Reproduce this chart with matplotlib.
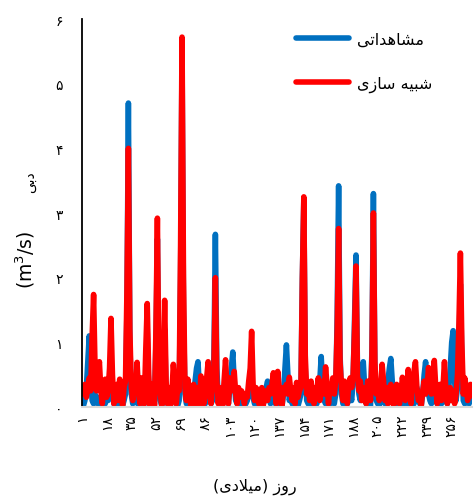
import matplotlib
matplotlib.use("Agg")
import matplotlib.pyplot as plt

# daily discharge (m3/s), observed vs simulated, days 1..270
observed = [
    0.05, 0.02, 0.10, 0.30, 0.70, 1.10, 0.40, 0.10, 0.05, 0.20,
    0.10, 0.05, 0.15, 0.05, 0.02, 0.10, 0.05, 0.20, 0.10, 0.30,
    0.60, 0.20, 0.05, 0.02, 0.10, 0.05, 0.15, 0.05, 0.02, 0.10,
    0.20, 1.50, 4.70, 1.00, 0.20, 0.05, 0.10, 0.30, 0.10, 0.02,
    0.05, 0.10, 0.02, 0.05, 0.40, 1.20, 0.30, 0.05, 0.02, 0.10,
    0.05, 1.00, 2.60, 0.40, 0.10, 0.02, 0.10, 1.20, 0.20, 0.05,
    0.02, 0.05, 0.10, 0.30, 0.10, 0.05, 0.02, 0.10, 2.00, 5.50,
    1.50, 0.20, 0.05, 0.10, 0.05, 0.02, 0.10, 0.20, 0.40, 0.60,
    0.70, 0.30, 0.05, 0.02, 0.10, 0.05, 0.20, 0.30, 0.10, 0.05,
    0.10, 0.80, 2.67, 0.60, 0.10, 0.05, 0.02, 0.05, 0.20, 0.30,
    0.10, 0.05, 0.30, 0.60, 0.85, 0.40, 0.10, 0.05, 0.02, 0.05,
    0.10, 0.05, 0.02, 0.05, 0.10, 0.20, 0.40, 0.60, 0.15, 0.05,
    0.02, 0.05, 0.02, 0.10, 0.20, 0.05, 0.10, 0.30, 0.40, 0.20,
    0.05, 0.10, 0.30, 0.10, 0.02, 0.05, 0.10, 0.05, 0.02, 0.20,
    0.60, 0.96, 0.50, 0.10, 0.20, 0.05, 0.02, 0.10, 0.05, 0.02,
    0.10, 0.20, 2.00, 3.20, 0.60, 0.10, 0.05, 0.02, 0.10, 0.05,
    0.02, 0.10, 0.05, 0.20, 0.40, 0.78, 0.30, 0.10, 0.05, 0.10,
    0.02, 0.05, 0.10, 0.20, 0.05, 0.20, 1.40, 3.42, 0.80, 0.20,
    0.05, 0.10, 0.02, 0.05, 0.10, 0.20, 0.10, 0.40, 1.40, 2.35,
    0.60, 0.20, 0.10, 0.40, 0.70, 0.30, 0.05, 0.10, 0.05, 0.02,
    0.90, 3.30, 0.60, 0.10, 0.05, 0.02, 0.10, 0.30, 0.10, 0.05,
    0.10, 0.40, 0.60, 0.75, 0.40, 0.10, 0.02, 0.05, 0.02, 0.05,
    0.10, 0.02, 0.05, 0.20, 0.10, 0.05, 0.02, 0.20, 0.10, 0.05,
    0.20, 0.30, 0.10, 0.05, 0.02, 0.20, 0.50, 0.70, 0.30, 0.20,
    0.10, 0.05, 0.20, 0.30, 0.10, 0.05, 0.02, 0.10, 0.05, 0.10,
    0.30, 0.10, 0.05, 0.30, 0.60, 1.00, 1.18, 0.40, 0.10, 0.30,
    0.90, 1.90, 0.70, 0.10, 0.05, 0.20, 0.10, 0.05, 0.20, 0.10,
]
simulated = [
    0.28, 0.20, 0.35, 0.15, 0.30, 0.45, 0.25, 1.10, 1.74, 0.60,
    0.25, 0.45, 0.70, 0.25, 0.05, 0.30, 0.43, 0.15, 0.25, 0.60,
    1.37, 0.50, 0.05, 0.25, 0.35, 0.10, 0.43, 0.20, 0.02, 0.30,
    0.40, 1.80, 4.00, 1.20, 0.30, 0.10, 0.40, 0.25, 0.69, 0.20,
    0.05, 0.45, 0.25, 0.05, 0.90, 1.60, 0.50, 0.02, 0.35, 0.30,
    0.02, 1.20, 2.92, 0.60, 0.20, 0.02, 0.50, 1.65, 0.40, 0.05,
    0.30, 0.02, 0.20, 0.66, 0.40, 0.05, 0.30, 0.25, 2.50, 5.72,
    2.00, 0.30, 0.10, 0.43, 0.25, 0.02, 0.20, 0.35, 0.05, 0.30,
    0.15, 0.02, 0.48, 0.30, 0.05, 0.20, 0.45, 0.70, 0.20, 0.05,
    0.35, 0.60, 2.00, 0.40, 0.05, 0.30, 0.20, 0.02, 0.40, 0.73,
    0.30, 0.05, 0.45, 0.25, 0.30, 0.55, 0.20, 0.05, 0.30, 0.15,
    0.25, 0.20, 0.05, 0.20, 0.15, 0.40, 0.60, 1.17, 0.35, 0.10,
    0.30, 0.25, 0.05, 0.20, 0.30, 0.02, 0.20, 0.25, 0.10, 0.30,
    0.20, 0.35, 0.53, 0.25, 0.05, 0.55, 0.30, 0.10, 0.02, 0.30,
    0.25, 0.35, 0.20, 0.46, 0.25, 0.10, 0.30, 0.05, 0.38, 0.15,
    0.25, 0.30, 2.00, 3.25, 0.80, 0.20, 0.35, 0.10, 0.40, 0.25,
    0.05, 0.30, 0.20, 0.45, 0.10, 0.30, 0.40, 0.20, 0.62, 0.35,
    0.05, 0.30, 0.25, 0.45, 0.20, 0.40, 1.20, 2.76, 0.70, 0.30,
    0.10, 0.40, 0.25, 0.05, 0.35, 0.45, 0.30, 0.50, 1.20, 2.18,
    0.50, 0.25, 0.40, 0.10, 0.30, 0.20, 0.05, 0.40, 0.30, 0.10,
    0.80, 3.00, 0.70, 0.20, 0.35, 0.10, 0.30, 0.66, 0.40, 0.10,
    0.30, 0.05, 0.25, 0.35, 0.10, 0.02, 0.20, 0.35, 0.15, 0.05,
    0.20, 0.46, 0.30, 0.10, 0.25, 0.58, 0.20, 0.05, 0.40, 0.55,
    0.70, 0.30, 0.10, 0.20, 0.02, 0.25, 0.40, 0.20, 0.30, 0.61,
    0.35, 0.20, 0.40, 0.72, 0.30, 0.05, 0.25, 0.35, 0.10, 0.30,
    0.70, 0.25, 0.05, 0.20, 0.30, 0.10, 0.25, 0.05, 0.20, 0.50,
    1.30, 2.38, 1.00, 0.20, 0.45, 0.30, 0.10, 0.25, 0.35, 0.17,
]
days = list(range(1, len(observed) + 1))
xtick_days = list(range(1, 257, 17))
yticks = [0, 1, 2, 3, 4, 5, 6]

PERSIAN_DIGITS = str.maketrans("0123456789", "۰۱۲۳۴۵۶۷۸۹")

# matplotlib does no Arabic shaping, so pick presentation forms by hand
# letter: (isolated, final, initial, medial)
FORMS = {
    "ا": (0xFE8D, 0xFE8E, None, None),
    "ب": (0xFE8F, 0xFE90, 0xFE91, 0xFE92),
    "ت": (0xFE95, 0xFE96, 0xFE97, 0xFE98),
    "د": (0xFEA9, 0xFEAA, None, None),
    "ر": (0xFEAD, 0xFEAE, None, None),
    "ز": (0xFEAF, 0xFEB0, None, None),
    "س": (0xFEB1, 0xFEB2, 0xFEB3, 0xFEB4),
    "ش": (0xFEB5, 0xFEB6, 0xFEB7, 0xFEB8),
    "ل": (0xFEDD, 0xFEDE, 0xFEDF, 0xFEE0),
    "م": (0xFEE1, 0xFEE2, 0xFEE3, 0xFEE4),
    "ه": (0xFEE9, 0xFEEA, 0xFEEB, 0xFEEC),
    "و": (0xFEED, 0xFEEE, None, None),
    "ی": (0xFBFC, 0xFBFD, 0xFBFE, 0xFBFF),
    "لا": (0xFEFB, 0xFEFC, None, None),
}
MIRROR = {"(": ")", ")": "("}


def rtl(text):
    letters = []
    i = 0
    while i < len(text):
        if text[i:i + 2] == "لا":
            letters.append("لا")
            i += 2
        else:
            letters.append(text[i])
            i += 1
    out = []
    for i, ch in enumerate(letters):
        if ch not in FORMS:
            out.append(MIRROR.get(ch, ch))
            continue
        iso, fin, ini, med = FORMS[ch]
        prev = letters[i - 1] if i > 0 else None
        nxt = letters[i + 1] if i + 1 < len(letters) else None
        join_prev = prev in FORMS and FORMS[prev][2] is not None
        join_next = nxt in FORMS and ini is not None
        if join_prev and join_next:
            code = med
        elif join_prev:
            code = fin
        elif join_next:
            code = ini
        else:
            code = iso
        out.append(chr(code))
    return "".join(reversed(out))


fig = plt.figure(figsize=(4.76, 5.02), dpi=100)
ax = fig.add_axes([82 / 476, 94 / 502, 390 / 476, 388 / 502])

ax.plot(days, observed, color="#0070C0", lw=4, solid_capstyle="round",
        solid_joinstyle="round", label=rtl("مشاهداتی"))
ax.plot(days, simulated, color="#FF0000", lw=4, solid_capstyle="round",
        solid_joinstyle="round", label=rtl("شبیه سازی"))

ax.set_xlim(1, len(days))
ax.set_ylim(0, 6)
ax.set_xticks(xtick_days)
ax.set_xticklabels([str(d).translate(PERSIAN_DIGITS) for d in xtick_days],
                   rotation=90, fontsize=10)
ax.set_yticks(yticks)
ax.set_yticklabels([str(v).translate(PERSIAN_DIGITS) for v in yticks], fontsize=10)
ax.tick_params(axis="y", length=0, pad=14)
ax.tick_params(axis="x", length=0, pad=5)

for side in ["top", "right"]:
    ax.spines[side].set_visible(False)
ax.spines["left"].set_color("black")
ax.spines["left"].set_linewidth(1.3)
ax.spines["bottom"].set_color("#d9d9d9")
ax.spines["bottom"].set_linewidth(1.5)

fig.text(25 / 476, 1 - 260 / 502, "(m$^{3}$/s)", rotation=90, fontsize=13.5,
         ha="center", va="center")
fig.text(30 / 476, 1 - 182 / 502, rtl("دبی"), rotation=90, fontsize=10,
         ha="center", va="center")
fig.text(255 / 476, 1 - 487 / 502, rtl("روز (میلادی)"), fontsize=11.5,
         ha="center", va="center")

ax.legend(loc="upper left", bbox_to_anchor=(296 / 476, 1 - 33 / 502),
          bbox_transform=fig.transFigure, frameon=False, fontsize=11.5,
          handlelength=3.3, handletextpad=0.5, labelspacing=1.8,
          borderpad=0, borderaxespad=0)

fig.savefig("out.png", dpi=100)
